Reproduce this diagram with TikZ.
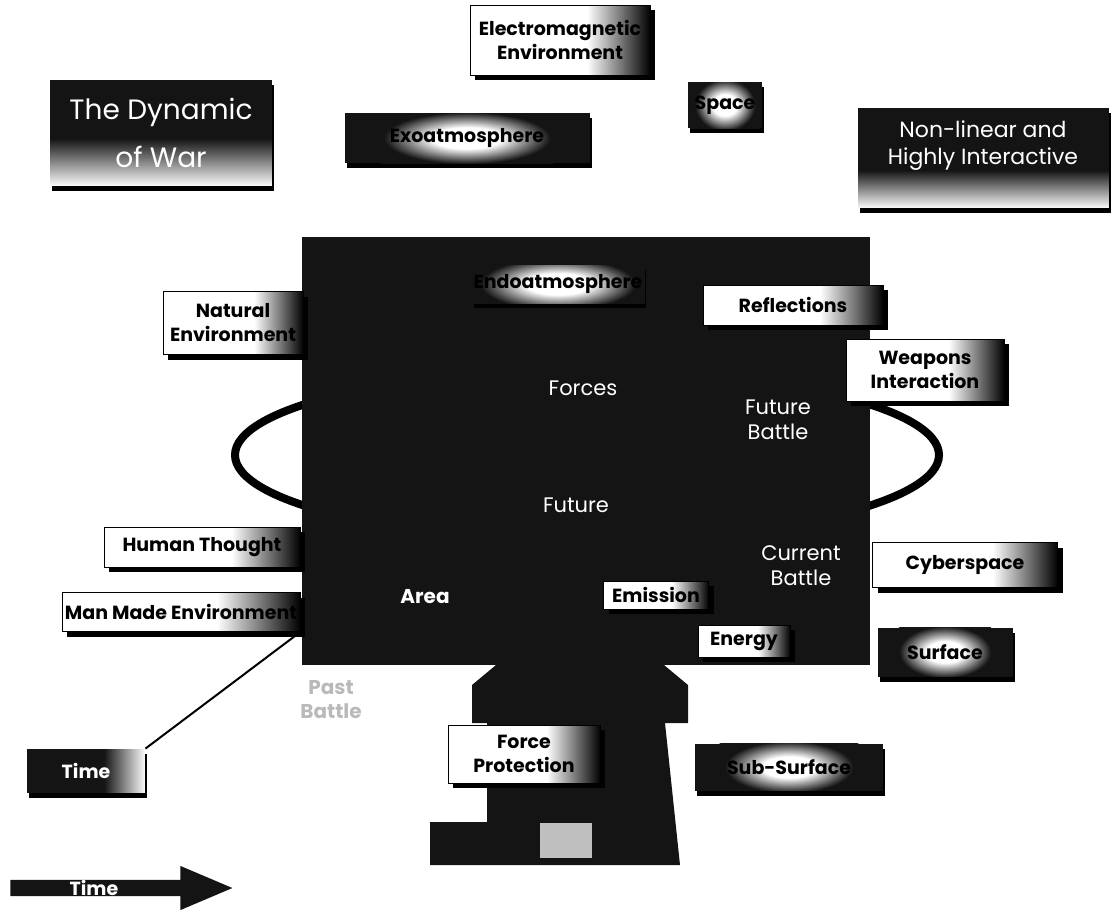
\documentclass[tikz,border=0pt]{standalone}
\usepackage{fontspec}
\setmainfont{Poppins}
\usetikzlibrary{positioning,calc,shadows,fadings,shapes.arrows}

\tikzfading[name=toright, left color=transparent!100, right color=transparent!0]
\tikzfading[name=todown, top color=transparent!100, bottom color=transparent!0]
\pgfdeclareradialshading{glowshade}{\pgfpoint{0bp}{0bp}}{color(0bp)=(white); color(7bp)=(white); color(17bp)=(black!92); color(50bp)=(black!92)}

\begin{document}
\begin{tikzpicture}[x=0.5pt, y=-0.5pt,
  tag/.style={rectangle, draw=black, fill=white, align=center, inner sep=1pt,
    font=\fontsize{9.5}{12}\selectfont\bfseries,
    drop shadow={shadow xshift=2.5pt, shadow yshift=-2.5pt, fill=black, opacity=1}},
  darkbox/.style={rectangle, fill=black!92, align=center, inner sep=1pt,
    drop shadow={shadow xshift=1pt, shadow yshift=-2.5pt, fill=black, opacity=1}},
  darktag/.style={darkbox, font=\fontsize{9.5}{12}\selectfont\bfseries,
    path picture={\shade[shading=glowshade] (path picture bounding box.center) ellipse [x radius=#1, y radius=19pt];}},
  darktag/.default=40pt,
  plain/.style={text=white, align=center, font=\fontsize{10.5}{12.5}\selectfont},
]
\useasboundingbox (0,0) rectangle (1114,917);

% ring and battle space
\draw[line width=4pt] (587,455) ellipse [x radius=176pt, y radius=42.5pt];
\node[fill=black!92, minimum width=284pt, minimum height=214pt, inner sep=0pt] (battle) at (586,451) {};
\fill[black!92] (502,660) -- (472,685) -- (472,723) -- (487,723) -- (487,822) -- (430,822)
  -- (430,865) -- (680,865) -- (665,723) -- (688,723) -- (688,685) -- (658,660) -- cycle;
\fill[gray!50] (540,823) rectangle (592,858);

% === TOP ===
\node[darkbox, minimum width=111pt, minimum height=53pt, text=white, font=\fontsize{14}{24}\selectfont] (dyn) at (161,133) {The Dynamic\\of War};
\node[tag, minimum width=90pt, minimum height=35pt] (emenv) at (560,40) {Electromagnetic\\Environment};
\node[darktag=58pt, minimum width=122.5pt, minimum height=25pt] (exo) at (467,138) {Exoatmosphere};
\node[darktag=22pt, minimum width=37pt, minimum height=23pt] (space) at (725,105) {Space};
\node[darkbox, minimum width=125.5pt, minimum height=50pt, text depth=15pt, text=white, font=\fontsize{11}{13.5}\selectfont] (nonlin) at (983,158) {Non-linear and\\Highly Interactive};

% === INSIDE ===
\node[darktag=57pt, minimum width=67pt, minimum height=19pt, drop shadow={opacity=0}] (endo) at (558,284) {Endoatmosphere};
\node[tag, minimum width=90pt, minimum height=20pt] (refl) at (793,305) {Reflections};
\node[plain] (forces) at (583,388) {Forces};
\node[plain] (futb) at (778,420) {Future\\Battle};
\node[plain] (future) at (576,505) {Future};
\node[plain] (curb) at (801,566) {Current\\Battle};
\node[plain, font=\fontsize{10}{12}\selectfont\bfseries] (area) at (425,597) {Area};
\node[tag, minimum width=52.5pt, minimum height=14pt] (emis) at (656,595) {Emission};
\node[tag, minimum width=46pt, minimum height=16pt] (energy) at (744,641) {Energy};

% === AROUND ===
\node[tag, minimum width=70pt, minimum height=31.5pt] (natenv) at (233,323) {Natural\\Environment};
\node[tag, minimum width=79pt, minimum height=31pt] (weap) at (925,370) {Weapons\\Interaction};
\node[tag, minimum width=98pt, minimum height=20pt] (human) at (202,547) {Human Thought};
\node[tag, minimum width=119pt, minimum height=19.5pt] (manmade) at (181,612) {Man Made Environment};
\node[tag, minimum width=92.5pt, minimum height=22.5pt] (cyber) at (965,565) {Cyberspace};
\node[darktag=30pt, minimum width=67.5pt, minimum height=24.5pt] (surf) at (945,652) {Surface};
\node[tag, minimum width=76pt, minimum height=29pt] (forcep) at (524,754) {Force\\Protection};
\node[darktag=44pt, minimum width=94pt, minimum height=23.5pt] (subsurf) at (789,767) {Sub-Surface};
\node[font=\fontsize{10}{12}\selectfont\bfseries, text=gray!55, align=center] (past) at (331,700) {Past\\Battle};
\node[darkbox, minimum width=59pt, minimum height=22pt, text=white, font=\fontsize{9.5}{12}\selectfont\bfseries] (timebox) at (86,771) {Time};

% shaded ends
\foreach \n in {emenv,refl,weap,natenv,human,manmade,cyber,forcep,emis,energy}
  \fill[black, path fading=toright] ($(\n.north east)!0.35!(\n.north west)$) rectangle (\n.south east);
\fill[white, path fading=toright] ($(timebox.north east)!0.35!(timebox.north west)$) rectangle (timebox.south east);
\fill[white, path fading=todown] ($(dyn.south west)!0.45!(dyn.north west)$) rectangle (dyn.south east);
\fill[white, path fading=todown] ($(nonlin.south west)!0.38!(nonlin.north west)$) rectangle (nonlin.south east);

\draw[line width=1pt] (timebox.north east) -- (manmade.south east);

\node[single arrow, fill=black!92, minimum height=111pt, minimum width=14pt, single arrow head extend=7pt,
  single arrow tip angle=46, inner sep=0pt, anchor=tail, text=white, font=\fontsize{9.5}{12}\selectfont\bfseries] (timeline) at (10,888) {Time\hspace*{18pt}};
\end{tikzpicture}
\end{document}
